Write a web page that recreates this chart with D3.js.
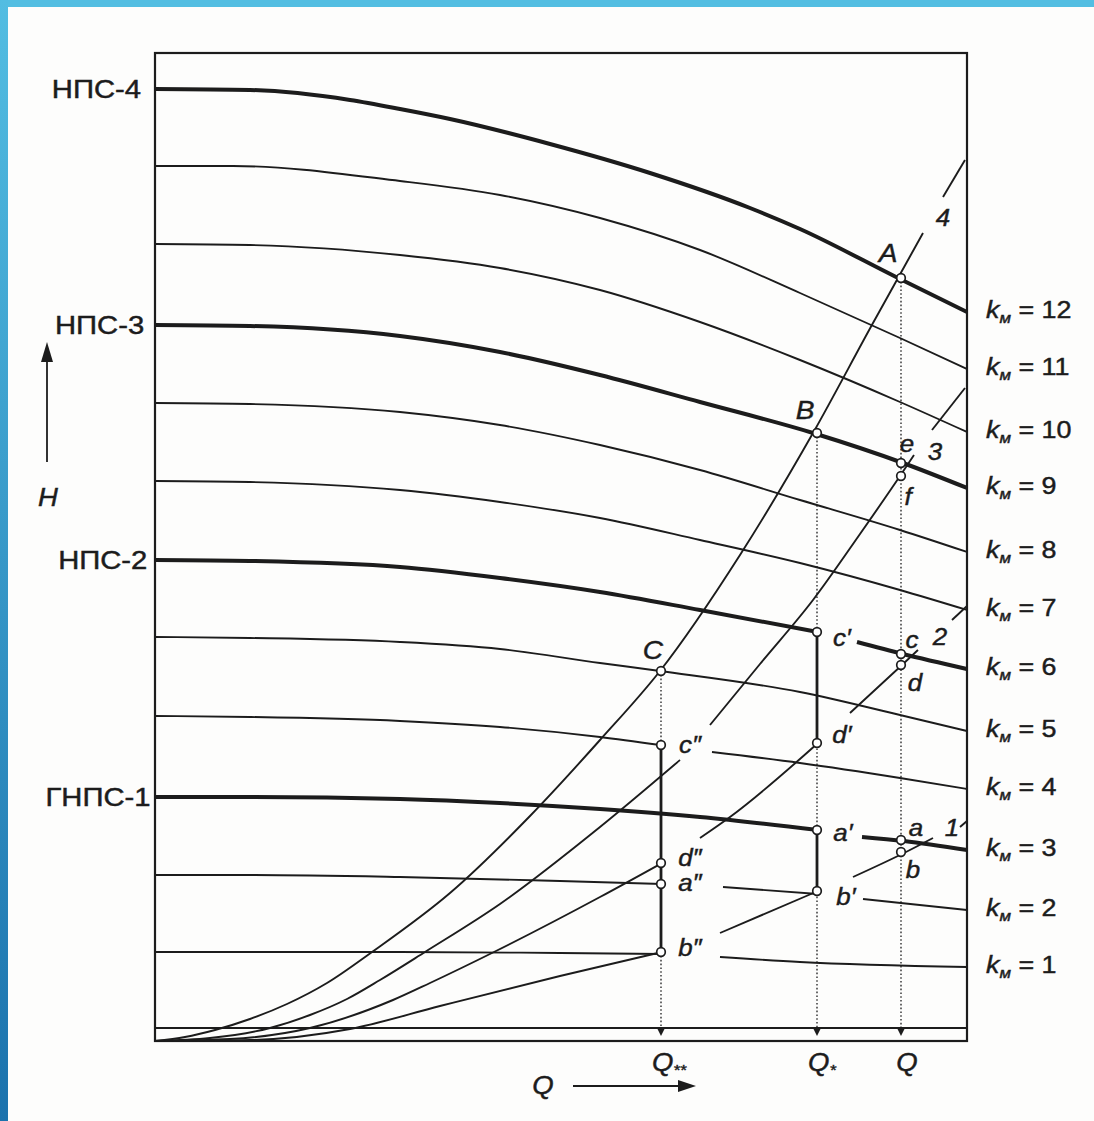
<!DOCTYPE html>
<html><head><meta charset="utf-8">
<script src="https://cdn.jsdelivr.net/npm/d3@7"></script>
<style>body{margin:0;background:#fff;}svg{display:block;}</style>
</head><body>
<svg id="c" width="1094" height="1121"></svg>
<script>
// ---------- DATA (Q, H in chart units) ----------
const kLevels = [12, 11, 10, 9, 8, 7, 6, 5, 4, 3, 2, 1, 0];
const km12 = [[[0,952],[95,951],[195,941],[245,932],[295,922],[395,897],[495,868],[595,833],[645,812],[743,763],[812,729]]];
const km11 = [[[0,875],[78,875],[245,860],[345,846],[445,823],[545,791],[645,748],[745,703],[812,672]]];
const km10 = [[[0,797],[95,796],[245,786],[345,773],[445,751],[545,719],[645,681],[745,639],[812,609]]];
const km9  = [[[0,716],[95,715],[245,705],[345,689],[445,666],[545,639],[658,608],[748,578],[812,553]]];
const km8  = [[[0,638],[95,637],[245,629],[345,616],[445,596],[545,571],[645,541],[745,511],[812,489]]];
const km7  = [[[0,560],[95,559],[245,551],[345,539],[445,523],[545,501],[645,478],[745,451],[812,431]]];
const km6  = [[[0,481],[95,480],[245,474],[345,463],[445,449],[545,431],[663,409]],[[702,399],[748,387],[812,372]]];
const km5  = [[[0,404],[95,403],[245,399],[345,392],[445,378],[505,370],[645,349],[745,326],[812,310]]];
const km4  = [[[0,325],[95,324],[245,320],[345,314],[445,304],[505,296]],[[557,289],[645,278],[745,263],[812,252]]];
const km3  = [[[0,244],[95,244],[245,242],[345,238],[445,232],[545,224],[663,211]],[[707,204],[749,200],[812,191]]];
const km2  = [[[0,166],[95,166],[245,164],[405,160],[507,157]],[[568,154],[663,147]],[[708,142],[812,131]]];
const km1  = [[[0,89],[245,89],[405,88],[507,87]],[[565,84],[645,79],[812,74]]];
const km0  = [[[0,13],[400,13],[812,13]]];
const stationCurves = [km12, km11, km10, km9, km8, km7, km6, km5, km4, km3, km2, km1, km0];
const thickLevels = [3, 6, 9, 12];
const stationNames = ["ГНПС-1", "НПС-2", "НПС-3", "НПС-4"];
const stationK = [3, 6, 9, 12];

// pipeline characteristics 1..4
const pipe1 = [[[0,0],[95,1],[195,12],[285,35],[405,65],[507,89]],[[565,108],[663,150]],[[698,164],[751,189],[778,203]],[[805,214],[812,220]]];
const pipe2 = [[[0,0],[75,2],[155,13],[238,41],[275,58],[339,89],[445,144],[507,178]],[[545,203],[575,224],[663,298]],[[695,328],[747,376],[763,391]],[[797,421],[812,435]]];
const pipe3 = [[[0,0],[55,3],[115,13],[155,26],[192,42],[225,61],[270,89],[345,137],[445,214],[525,281]],[[555,316],[605,377],[658,441],[705,507],[745,565],[759,586]],[[777,611],[810,653]]];
const pipe4 = [[[0,0],[30,4],[60,11],[95,22],[132,37],[172,58],[217,89],[295,148],[375,225],[445,301],[505,370],[585,486],[658,608],[718,718],[743,763],[768,808]],[[788,844],[810,881]]];
const pipeCurves = [pipe1, pipe2, pipe3, pipe4];
const pipeNames = ["1", "2", "3", "4"];

// operating flows
const flowNames = ["Q**", "Q*", "Q"];
const flowValues = [506, 662, 746];

// marked points
const pointNames = ["A","e","f","c","d","a","b","B","c′","d′","a′","b′","C","c″","d″","a″","b″"];
const pointQ = [746,746,746,746,746,746,746,662,662,662,662,662,506,506,506,506,506];
const pointH = [763,578,565,387,376,201,189,608,409,298,211,150,370,296,178,157,89];

// solid segments along the flow verticals
const solidQ = [662, 662, 506];
const solidFrom = [409, 211, 296];
const solidTo = [298, 150, 89];

// ---------- CHART ----------
const svg = d3.select("#c");
const W = 1094, Hh = 1121;
const ink = "#1c1c1c";
const x = d3.scaleLinear().domain([0, 812]).range([155, 967]);
const y = d3.scaleLinear().domain([0, 988]).range([1041, 53]);

svg.append("rect").attr("width", W).attr("height", Hh).attr("fill", "#fdfdfc");
const defs = svg.append("defs");
const lg = defs.append("linearGradient").attr("id","lb").attr("x1",0).attr("y1",0).attr("x2",0).attr("y2",1);
lg.append("stop").attr("offset","0%").attr("stop-color","#52bde2");
lg.append("stop").attr("offset","100%").attr("stop-color","#1b72ad");
svg.append("rect").attr("x",0).attr("y",0).attr("width",W).attr("height",7).attr("fill","#53bee2");
svg.append("rect").attr("x",0).attr("y",0).attr("width",8).attr("height",Hh).attr("fill","url(#lb)");

const g = svg.append("g");
g.append("rect").attr("x", x(0)).attr("y", y(988)).attr("width", x(812)-x(0)).attr("height", y(0)-y(988))
  .attr("fill","none").attr("stroke",ink).attr("stroke-width",2.2);

const line = d3.line().x(d => x(d[0])).y(d => y(d[1])).curve(d3.curveMonotoneX);

stationCurves.forEach((segs, i) => {
  const thick = thickLevels.includes(kLevels[i]);
  segs.forEach(s => {
    g.append("path").attr("d", line(s)).attr("fill","none").attr("stroke",ink)
      .attr("stroke-width", thick ? 4 : 1.9);
  });
});

pipeCurves.forEach(segs => {
  segs.forEach(s => {
    g.append("path").attr("d", line(s)).attr("fill","none").attr("stroke",ink).attr("stroke-width", 1.9);
  });
});

flowValues.forEach(q => {
  const idx = pointQ.map((v,j)=>v===q?j:-1).filter(j=>j>=0);
  const top = d3.max(idx, j => pointH[j]);
  g.append("line").attr("x1", x(q)).attr("x2", x(q)).attr("y1", y(top)).attr("y2", y(14))
    .attr("stroke", ink).attr("stroke-width", 1.3).attr("stroke-dasharray","1.6,2.2");
  g.append("path").attr("d", `M${x(q)-4.5},${y(14)} L${x(q)+4.5},${y(14)} L${x(q)},${y(5)} Z`).attr("fill", ink);
});
solidQ.forEach((q, i) => {
  g.append("line").attr("x1", x(q)).attr("x2", x(q)).attr("y1", y(solidFrom[i])).attr("y2", y(solidTo[i]))
    .attr("stroke", ink).attr("stroke-width", 2.8);
});

pointNames.forEach((n, i) => {
  g.append("circle").attr("cx", x(pointQ[i])).attr("cy", y(pointH[i])).attr("r", 4.3)
    .attr("fill","#fff").attr("stroke",ink).attr("stroke-width",1.7);
});

// ---------- TEXT ----------
const FONT = "'Liberation Sans', Arial, Helvetica, sans-serif";
function txt(px, py, parts, o) {
  o = o || {};
  const t = g.append("text").attr("transform", `translate(${px},${py}) scale(${o.sx||1.1},1)`)
    .attr("font-family", FONT).attr("font-size", o.size || 24).attr("fill", ink)
    .attr("stroke", ink).attr("stroke-width", 0.45)
    .attr("text-anchor", o.anchor || "middle").attr("dy", "0.35em");
  parts.forEach(p => {
    const ts = t.append("tspan").text(p.t);
    if (p.italic) ts.attr("font-style","italic");
    if (p.size) ts.attr("font-size", p.size);
    if (p.dy) ts.attr("dy", p.dy);
  });
  return t;
}

stationNames.forEach((nm, i) => {
  const seg = stationCurves[kLevels.indexOf(stationK[i])][0];
  const yy = y(seg[0][1]);
  txt(141 + (yy - 89) * 0.0135, yy, [{t: nm}], {anchor:"end", size:25, sx:1.17});
});

kLevels.forEach((k, i) => {
  if (k === 0) return;
  const segs = stationCurves[i];
  const last = segs[segs.length-1];
  const yy = y(last[last.length-1][1]) - 2;
  txt(986, yy, [{t:"k", italic:true}, {t:"м", italic:true, size:15, dy:5}, {t:" = " + k, dy:-5}], {anchor:"start", size:24, sx:1.12});
});

const offs = {"A":[-13,-25],"B":[-12,-23],"C":[-8,-21],"e":[6,-19],"f":[7,21],"c":[11,-14],"d":[14,18],
  "a":[15,-12],"b":[12,18],"c′":[25,6],"d′":[25,-8],"a′":[26,3],"b′":[29,6],"c″":[29,0],"d″":[29,-5],"a″":[29,-1],"b″":[29,-4]};
pointNames.forEach((n, i) => {
  const o = offs[n];
  const big = /[ABC]/.test(n);
  txt(x(pointQ[i]) + o[0], y(pointH[i]) + o[1], [{t:n, italic:true}], {size: big ? 26 : 24, sx:1.08});
});

const pipeLabelPos = {"1":[952,828],"2":[940,637],"3":[935,452],"4":[943,218]};
pipeNames.forEach(n => {
  const p = pipeLabelPos[n];
  txt(p[0], p[1], [{t:n, italic:true}], {size:24, sx:1.08});
});

flowNames.forEach((nm, i) => {
  const q = flowValues[i];
  const stars = nm.slice(1);
  const parts = [{t:"Q", italic:true}];
  if (stars) parts.push({t:stars, italic:true, size:15, dy:4});
  txt(x(q) + (stars.length===2 ? 8 : (stars.length===1 ? 5 : 6)), 1062, parts, {size:25, sx:1.1});
});

g.append("line").attr("x1",47).attr("x2",47).attr("y1",462).attr("y2",358).attr("stroke",ink).attr("stroke-width",1.8);
g.append("path").attr("d","M41,362 L47,342 L53,362 Z").attr("fill",ink);
txt(48, 497, [{t:"H", italic:true}], {size:25, sx:1.1});
g.append("line").attr("x1",573).attr("x2",682).attr("y1",1086).attr("y2",1086).attr("stroke",ink).attr("stroke-width",1.8);
g.append("path").attr("d","M678,1080 L696,1086 L678,1092 Z").attr("fill",ink);
txt(543, 1085, [{t:"Q", italic:true}], {size:25, sx:1.1});
</script>
</body></html>
